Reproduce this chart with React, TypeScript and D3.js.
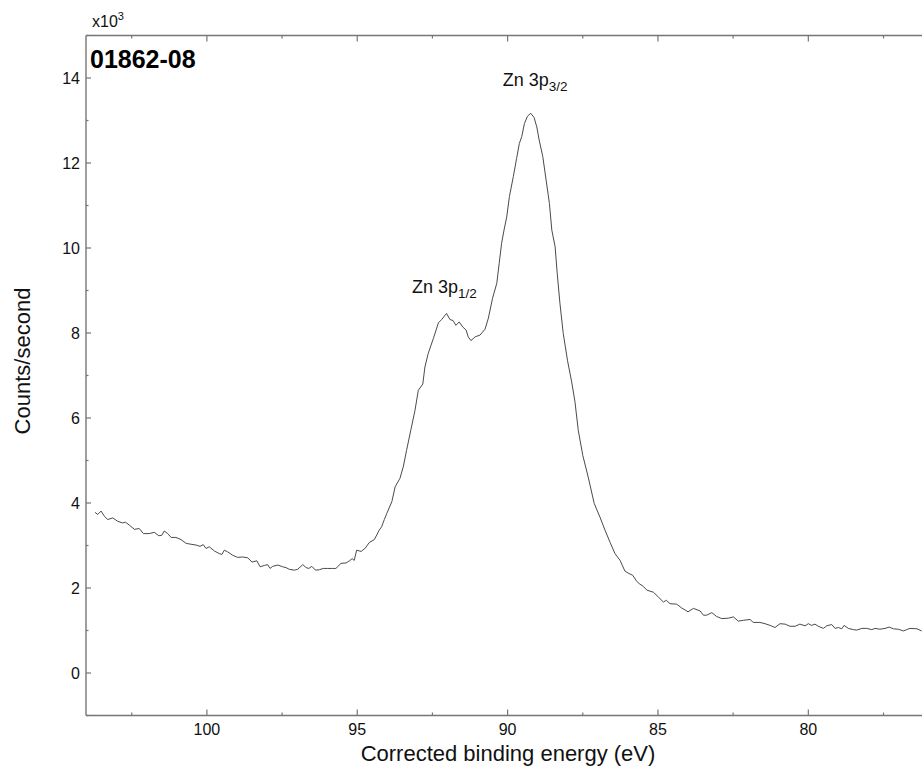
import React from "react";
import * as d3 from "d3";

// Binding energy (eV) and counts/second (x10^3)
const energy = [
  103.72, 103.63, 103.52, 103.41, 103.30, 103.13, 102.97, 102.80, 102.71, 102.58,
  102.41, 102.25, 102.11, 101.92, 101.75, 101.60, 101.50, 101.42, 101.30, 101.19,
  101.03, 100.86, 100.69, 100.53, 100.36, 100.23, 100.12, 100.03, 99.92, 99.75,
  99.59, 99.50, 99.42, 99.31, 99.14, 98.98, 98.81, 98.64, 98.50, 98.34,
  98.23, 98.09, 97.98, 97.90, 97.81, 97.64, 97.48, 97.37, 97.26, 97.09,
  96.98, 96.81, 96.70, 96.61, 96.51, 96.39, 96.26, 96.13, 95.98, 95.82,
  95.71, 95.54, 95.37, 95.26, 95.17, 95.10, 95.02, 94.87, 94.73, 94.60,
  94.43, 94.27, 94.19, 94.10, 94.02, 93.85, 93.74, 93.58, 93.47, 93.36,
  93.22, 93.08, 92.97, 92.82, 92.75, 92.64, 92.47, 92.30, 92.19, 92.03,
  91.92, 91.81, 91.72, 91.61, 91.49, 91.38, 91.31, 91.22, 91.08, 90.92,
  90.75, 90.64, 90.50, 90.36, 90.28, 90.20, 90.12, 90.03, 89.94, 89.81,
  89.70, 89.61, 89.53, 89.44, 89.34, 89.23, 89.12, 89.03, 88.95, 88.83,
  88.72, 88.61, 88.53, 88.42, 88.35, 88.26, 88.15, 88.01, 87.87, 87.76,
  87.65, 87.50, 87.32, 87.12, 86.93, 86.76, 86.59, 86.43, 86.26, 86.10,
  85.99, 85.84, 85.71, 85.60, 85.49, 85.37, 85.15, 84.99, 84.82, 84.72,
  84.60, 84.38, 84.21, 84.00, 83.82, 83.60, 83.49, 83.38, 83.21, 83.05,
  82.88, 82.66, 82.49, 82.33, 82.16, 81.94, 81.83, 81.61, 81.44, 81.27,
  81.11, 80.94, 80.77, 80.61, 80.44, 80.28, 80.11, 80.00, 79.89, 79.78,
  79.67, 79.50, 79.39, 79.22, 79.11, 79.00, 78.89, 78.81, 78.67, 78.50,
  78.39, 78.22, 78.06, 77.89, 77.78, 77.62, 77.45, 77.31, 77.17, 77.01,
  76.84, 76.73, 76.62, 76.39, 76.23,
];

const counts = [
  3.78, 3.73, 3.81, 3.69, 3.61, 3.65, 3.57, 3.53, 3.55, 3.48,
  3.38, 3.40, 3.28, 3.28, 3.31, 3.23, 3.24, 3.34, 3.28, 3.19,
  3.19, 3.14, 3.05, 3.03, 3.01, 2.98, 3.02, 2.93, 2.97, 2.87,
  2.81, 2.79, 2.89, 2.85, 2.77, 2.72, 2.73, 2.71, 2.61, 2.64,
  2.50, 2.53, 2.55, 2.46, 2.51, 2.54, 2.50, 2.48, 2.44, 2.42,
  2.44, 2.55, 2.48, 2.46, 2.51, 2.42, 2.43, 2.46, 2.46, 2.46,
  2.46, 2.58, 2.59, 2.64, 2.69, 2.65, 2.89, 2.86, 2.94, 3.07,
  3.14, 3.36, 3.44, 3.61, 3.75, 4.03, 4.38, 4.58, 4.85, 5.24,
  5.71, 6.18, 6.65, 6.80, 7.20, 7.52, 7.87, 8.24, 8.32, 8.46,
  8.32, 8.29, 8.18, 8.26, 8.14, 8.07, 7.91, 7.82, 7.91, 7.95,
  8.09, 8.35, 8.82, 9.17, 9.64, 10.11, 10.42, 10.73, 11.21, 11.68,
  12.11, 12.46, 12.62, 12.93, 13.10, 13.17, 13.07, 12.85, 12.54, 12.15,
  11.60, 11.05, 10.42, 10.03, 9.40, 8.70, 7.99, 7.36, 6.85, 6.38,
  5.71, 5.12, 4.61, 3.99, 3.67, 3.36, 3.07, 2.81, 2.65, 2.40,
  2.35, 2.30, 2.16, 2.09, 2.04, 1.95, 1.90, 1.79, 1.67, 1.71,
  1.63, 1.62, 1.53, 1.44, 1.52, 1.46, 1.36, 1.36, 1.42, 1.33,
  1.28, 1.29, 1.32, 1.22, 1.24, 1.26, 1.19, 1.19, 1.16, 1.12,
  1.07, 1.16, 1.15, 1.10, 1.10, 1.15, 1.11, 1.16, 1.12, 1.15,
  1.10, 1.05, 1.11, 1.14, 1.05, 1.07, 1.04, 1.12, 1.05, 1.02,
  1.01, 1.05, 1.05, 1.02, 1.05, 1.03, 1.05, 1.08, 1.04, 1.03,
  0.99, 1.02, 1.05, 1.04, 0.99,
];

const xMajorTicks = [100, 95, 90, 85, 80];
const xMinorTicks = [102.5, 97.5, 92.5, 87.5, 82.5, 77.5];
const yMajorTicks = [0, 2, 4, 6, 8, 10, 12, 14];
const yMinorTicks = [-1, 1, 3, 5, 7, 9, 11, 13, 15];

const sampleTitle = "01862-08";
const peakLabels = [
  { main: "Zn 3p", sub: "1/2", e: 93.18, v: 8.95 },
  { main: "Zn 3p", sub: "3/2", e: 90.16, v: 13.81 },
];

const W = 922;
const H = 772;
const L = 86;
const R = 922;
const T = 35.5;
const B = 715.5;

export default function App() {
  const x = d3.scaleLinear().domain([104.02, 76.22]).range([L, R]);
  const y = d3.scaleLinear().domain([-1, 15]).range([B, T]);

  const pts: [number, number][] = energy.map((e, i) => [e, counts[i]]);
  const line = d3
    .line<[number, number]>()
    .x((d) => x(d[0]))
    .y((d) => y(d[1]))(pts) as string;

  const font = "Arial, 'Liberation Sans', sans-serif";
  const axisColor = "#767676";

  return (
    <svg
      width={W}
      height={H}
      style={{ position: "absolute", left: 0, top: 0, background: "#fff" }}
      fontFamily={font}
    >
      <rect x={0} y={0} width={W} height={H} fill="#fff" />
      {/* frame */}
      <line x1={L} x2={L} y1={T} y2={B} stroke={axisColor} strokeWidth={1.4} />
      <line x1={L} x2={R} y1={B} y2={B} stroke={axisColor} strokeWidth={1.4} />
      <line x1={L} x2={R} y1={T} y2={T} stroke={axisColor} strokeWidth={1.4} />

      {/* x ticks bottom and top */}
      {xMajorTicks.map((t) => (
        <g key={"xm" + t}>
          <line x1={x(t)} x2={x(t)} y1={B} y2={B - 6} stroke={axisColor} strokeWidth={1.2} />
          <line x1={x(t)} x2={x(t)} y1={T} y2={T + 6} stroke={axisColor} strokeWidth={1.2} />
          <text x={x(t)} y={735} fontSize={16} textAnchor="middle" fill="#111">
            {t}
          </text>
        </g>
      ))}
      {xMinorTicks.map((t) => (
        <g key={"xn" + t}>
          <line x1={x(t)} x2={x(t)} y1={B} y2={B - 3} stroke={axisColor} strokeWidth={1.2} />
          <line x1={x(t)} x2={x(t)} y1={T} y2={T + 3} stroke={axisColor} strokeWidth={1.2} />
        </g>
      ))}

      {/* y ticks */}
      {yMajorTicks.map((t) => (
        <g key={"ym" + t}>
          <line x1={L} x2={L + 5} y1={y(t)} y2={y(t)} stroke={axisColor} strokeWidth={1.2} />
          <text x={80} y={y(t)} dy="0.36em" fontSize={16} textAnchor="end" fill="#111">
            {t}
          </text>
        </g>
      ))}
      {yMinorTicks.map((t) => (
        <line key={"yn" + t} x1={L} x2={L + 2.5} y1={y(t)} y2={y(t)} stroke={axisColor} strokeWidth={1.2} />
      ))}

      {/* multiplier */}
      <text x={92} y={27} fontSize={16} fill="#111">
        x10<tspan dy={-7} fontSize={11}>3</tspan>
      </text>

      {/* sample title */}
      <text x={90} y={68} fontSize={25} fontWeight="bold" fill="#000">
        {sampleTitle}
      </text>

      {/* spectrum */}
      <path d={line} fill="none" stroke="#4a4a4a" strokeWidth={1} strokeLinejoin="round" />

      {/* peak labels */}
      {peakLabels.map((p, i) => (
        <text key={i} x={x(p.e)} y={y(p.v)} fontSize={18} fill="#111">
          {p.main}
          <tspan dy={5} fontSize={13.5}>{p.sub}</tspan>
        </text>
      ))}

      {/* axis titles */}
      <text x={508} y={761} fontSize={22} textAnchor="middle" fill="#111">
        Corrected binding energy (eV)
      </text>
      <text
        transform={`translate(30,361) rotate(-90)`}
        fontSize={22}
        textAnchor="middle"
        fill="#111"
      >
        Counts/second
      </text>
    </svg>
  );
}
